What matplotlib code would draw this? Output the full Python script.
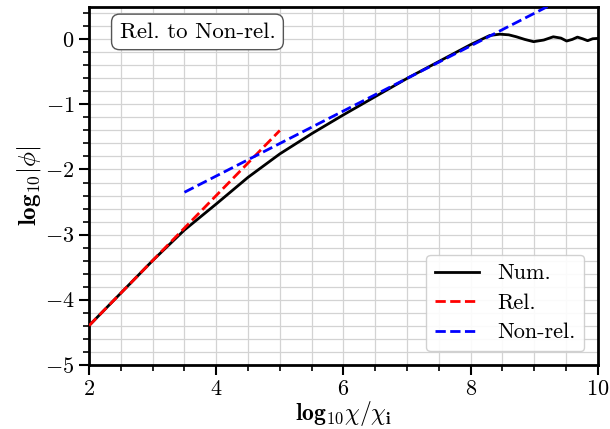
import numpy as np
import matplotlib
matplotlib.use('Agg')
import matplotlib.pyplot as plt
from matplotlib.ticker import MultipleLocator

plt.rcParams['font.family'] = 'serif'
plt.rcParams['font.serif'] = ['cmr10']
plt.rcParams['mathtext.fontset'] = 'cm'
plt.rcParams['axes.formatter.use_mathtext'] = True

# numerical solution
x_num = [2.0, 2.5, 3.0, 3.5, 4.0, 4.5, 5.0, 5.5, 6.0, 6.5, 7.0, 7.5, 8.0,
         8.3, 8.46, 8.6, 8.72, 8.85, 8.99, 9.15, 9.3, 9.42, 9.51, 9.6, 9.68,
         9.76, 9.84, 9.92, 10.0]
y_num = [-4.40, -3.90, -3.40, -2.93, -2.53, -2.12, -1.76, -1.45, -1.16,
         -0.88, -0.60, -0.34, -0.08, 0.06, 0.08, 0.07, 0.04, 0.0, -0.035,
         -0.01, 0.04, 0.02, -0.025, 0.0, 0.035, 0.01, -0.02, 0.01, 0.015]

# asymptotic lines
x_rel = [2.0, 5.0]
y_rel = [-4.40, -1.40]
x_nonrel = [3.5, 10.0]
y_nonrel = [-2.35, 0.90]

fig, ax = plt.subplots(figsize=(6.1, 4.29), dpi=100)
fig.subplots_adjust(left=0.146, right=0.98, top=0.984, bottom=0.15)

ax.plot(x_num, y_num, 'k', lw=2, label='Num.', zorder=3)
ax.plot(x_rel, y_rel, 'r--', lw=2, label='Rel.', zorder=4)
ax.plot(x_nonrel, y_nonrel, 'b--', lw=2, label='Non-rel.', zorder=4)

ax.set_xlim(2, 10)
ax.set_ylim(-5, 0.5)
ax.xaxis.set_major_locator(MultipleLocator(2))
ax.xaxis.set_minor_locator(MultipleLocator(0.5))
ax.yaxis.set_major_locator(MultipleLocator(1))
ax.yaxis.set_minor_locator(MultipleLocator(0.2))
ax.grid(which='both', color='#d3d3d3', lw=0.9)
ax.set_axisbelow(True)
ax.tick_params(which='major', direction='out', length=7, width=1.5, labelsize=16)
ax.tick_params(which='minor', direction='out', length=4, width=1.2)
for s in ax.spines.values():
    s.set_linewidth(2)

ax.set_xlabel(r'$\mathbf{log_{10}}\chi/\chi_{\mathbf{i}}$', fontsize=17, labelpad=0)
ax.set_ylabel(r'$\mathbf{log_{10}}|\phi|$', fontsize=18, labelpad=1)

ax.text(0.06, 0.93, 'Rel. to Non-rel.', transform=ax.transAxes, fontsize=16.5,
        ha='left', va='center',
        bbox=dict(boxstyle='round,pad=0.35', fc='white', ec='#555555', lw=1))

ax.legend(loc='lower right', fontsize=16, framealpha=0.9, handlelength=2.0,
          labelspacing=0.45, borderaxespad=0.6, fancybox=True)

plt.savefig('out.png', dpi=100)
